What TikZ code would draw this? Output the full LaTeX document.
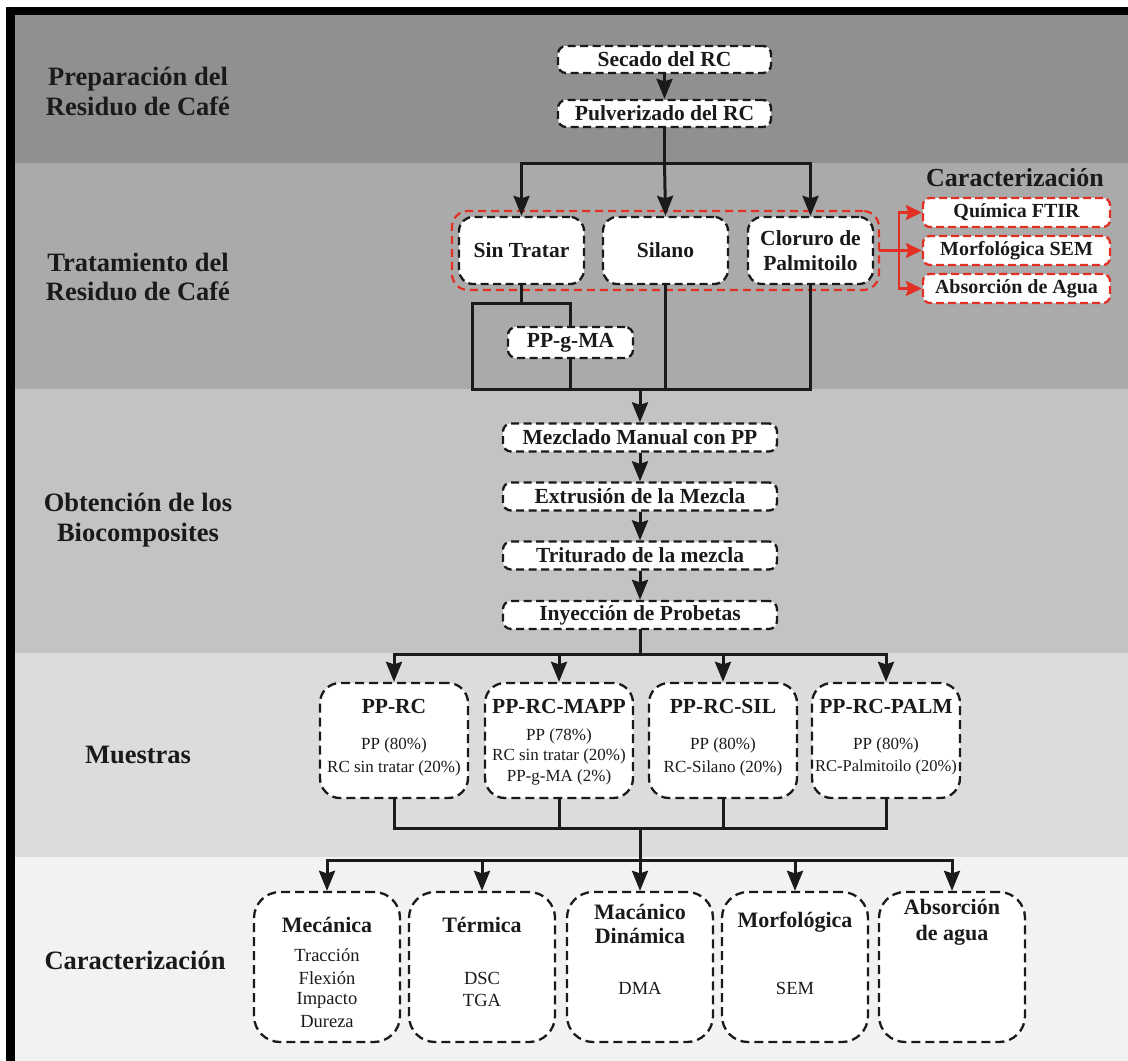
\documentclass[tikz,border=0pt]{standalone}
\usepackage{fontspec}
\setmainfont{Liberation Serif}
\usetikzlibrary{arrows.meta}
\definecolor{bandA}{RGB}{143,145,143}
\definecolor{bandB}{RGB}{169,170,169}
\definecolor{bandC}{RGB}{195,195,195}
\definecolor{bandD}{RGB}{220,220,220}
\definecolor{bandE}{RGB}{242,242,242}
\definecolor{linec}{RGB}{26,26,26}
\definecolor{redc}{RGB}{226,48,36}
\begin{document}
\begin{tikzpicture}[x=1pt,y=-1pt,
  conn/.style={line width=3pt, draw=linec, line cap=rect},
  arr/.style={line width=3pt, draw=linec, -{Stealth[length=20pt,width=16pt,inset=2.5pt]}},
  redline/.style={line width=2.6pt, draw=redc, line cap=rect},
  rarr/.style={line width=2.6pt, draw=redc, -{Stealth[length=16pt,width=15pt,inset=2.5pt]}},
  dbox/.style={draw=linec, fill=white, line width=2.3pt, dash pattern=on 8pt off 4.5pt, rounded corners=8pt, inner sep=0pt, text=linec, font=\bfseries\fontsize{21.5}{25}\selectfont, align=center},
  rbox/.style={draw=redc, fill=white, line width=2.3pt, dash pattern=on 8pt off 4pt, rounded corners=7pt, inner sep=0pt, text=linec, font=\bfseries\fontsize{20}{24}\selectfont, minimum width=187pt, minimum height=29pt},
  sbox/.style={draw=linec, fill=white, line width=2.3pt, dash pattern=on 9pt off 5pt, rounded corners=20pt, inner sep=0pt, minimum width=148pt, minimum height=115pt},
  cbox/.style={draw=linec, fill=white, line width=2.3pt, dash pattern=on 9pt off 5pt, rounded corners=26pt, inner sep=0pt, minimum width=146pt, minimum height=150pt},
  lab/.style={inner sep=0pt, text=linec, align=center, font=\bfseries\fontsize{26.5}{29.5}\selectfont},
  ttl/.style={inner sep=0pt, text=linec, align=center, font=\bfseries\fontsize{21.5}{25}\selectfont},
  sub/.style={inner sep=0pt, text=linec, font=\fontsize{17}{20}\selectfont},
  csub/.style={inner sep=0pt, text=linec, font=\fontsize{18.5}{21}\selectfont}
]
\useasboundingbox (0,0) rectangle (1128,1061);
\fill[white] (0,0) rectangle (1128,1061);
% bands
\fill[bandA] (15,15) rectangle (1128,163);
\fill[bandB] (15,163) rectangle (1128,389);
\fill[bandC] (15,389) rectangle (1128,653);
\fill[bandD] (15,653) rectangle (1128,857);
\fill[bandE] (15,857) rectangle (1128,1061);
% frame
\fill[black] (6,7) rectangle (1128,15);
\fill[black] (6,7) rectangle (15,1061);

% left labels
\node[lab] (l1) at (138,91.5) {Preparación del\\Residuo de Café};
\node[lab] (l2) at (138,277) {Tratamiento del\\Residuo de Café};
\node[lab] (l3) at (138,520) {Obtención de los\\Biocomposites};
\node[lab] (l4) at (138,755) {Muestras};
\node[lab] (l5) at (135,960) {Caracterización};

% band 1
\node[dbox, minimum width=213pt, minimum height=27pt] (sec) at (664.5,59.5) {Secado del RC};
\node[dbox, minimum width=213pt, minimum height=27pt] (pul) at (664.5,113.5) {Pulverizado del RC};
\draw[arr] (sec.south) -- (pul.north);

% band 2
\node[draw=redc, line width=2.2pt, dash pattern=on 8pt off 5pt, rounded corners=16pt, minimum width=427pt, minimum height=79pt, inner sep=0pt] (cont) at (665.5,250.5) {};
\node[dbox, minimum width=125pt, minimum height=67pt, rounded corners=14pt] (sin) at (521.5,250.5) {Sin Tratar};
\node[dbox, minimum width=125pt, minimum height=67pt, rounded corners=14pt] (sil) at (665.5,250.5) {Silano};
\node[dbox, minimum width=125pt, minimum height=67pt, rounded corners=14pt, font=\bfseries\fontsize{21.5}{25.5}\selectfont] (clo) at (810.5,250.5) {Cloruro de\\Palmitoilo};
\node[dbox, minimum width=125pt, minimum height=31pt] (ppg) at (570.5,342.5) {PP-g-MA};

\node[lab, font=\bfseries\fontsize{26}{29}\selectfont] (ch) at (1015,178) {Caracterización};
\node[rbox] (q) at (1016.5,212.5) {Química FTIR};
\node[rbox] (m) at (1016.5,250.5) {Morfológica SEM};
\node[rbox] (a) at (1016.5,288.5) {Absorción de Agua};

\coordinate (h1) at (664.5,163);
\draw[conn] (pul.south) -- (h1);
\draw[conn] (sin.north |- h1) -- (clo.north |- h1);
\draw[arr] (sin.north |- h1) -- (sin.north);
\draw[arr] (h1) -- (sil.north);
\draw[arr] (clo.north |- h1) -- (clo.north);

\coordinate (s1) at (521.5,303);
\coordinate (s2) at (472,303);
\coordinate (s3) at (570.5,303);
\coordinate (b1) at (472,389);
\coordinate (bm) at (640,389);
\draw[conn] (sin.south) -- (s1);
\draw[conn] (s2) -- (s3);
\draw[conn] (s2) -- (b1);
\draw[conn] (s3) -- (ppg.north);
\draw[conn] (ppg.south) -- (ppg.south |- b1);
\draw[conn] (sil.south) -- (sil.south |- b1);
\draw[conn] (clo.south) -- (clo.south |- b1);
\draw[conn] (b1) -- (clo.south |- b1);

% red connectors
\coordinate (r0) at (899,250.5);
\coordinate (rt) at (899,212.5);
\coordinate (rb) at (899,288.5);
\draw[redline] (cont.east) -- (r0);
\draw[redline] (rt) -- (rb);
\draw[rarr] (rt) -- (q.west);
\draw[rarr] (r0) -- (m.west);
\draw[rarr] (rb) -- (a.west);

% band 3
\node[dbox, minimum width=274pt, minimum height=28pt] (mez) at (640,437.5) {Mezclado Manual con PP};
\node[dbox, minimum width=274pt, minimum height=28pt] (ext) at (640,496.5) {Extrusión de la Mezcla};
\node[dbox, minimum width=274pt, minimum height=28pt] (tri) at (640,555.5) {Triturado de la mezcla};
\node[dbox, minimum width=274pt, minimum height=28pt] (iny) at (640,615) {Inyección de Probetas};
\draw[arr] (bm) -- (mez.north);
\draw[arr] (mez.south) -- (ext.north);
\draw[arr] (ext.south) -- (tri.north);
\draw[arr] (tri.south) -- (iny.north);

% band 4
\node[sbox] (p1) at (394,740.5) {};
\node[sbox] (p2) at (559,740.5) {};
\node[sbox] (p3) at (723,740.5) {};
\node[sbox] (p4) at (886,740.5) {};
\node[ttl] (p1t) at (394,706) {PP-RC};
\node[sub] (p1a) at (394,745) {PP (80\%)};
\node[sub] (p1b) at (394,768) {RC sin tratar (20\%)};
\node[ttl] (p2t) at (559,706) {PP-RC-MAPP};
\node[sub] (p2a) at (559,736) {PP (78\%)};
\node[sub] (p2b) at (559,756) {RC sin tratar (20\%)};
\node[sub] (p2c) at (559,777) {PP-g-MA (2\%)};
\node[ttl] (p3t) at (723,706) {PP-RC-SIL};
\node[sub] (p3a) at (723,745) {PP (80\%)};
\node[sub] (p3b) at (723,768) {RC-Silano (20\%)};
\node[ttl] (p4t) at (886,706) {PP-RC-PALM};
\node[sub] (p4a) at (886,745) {PP (80\%)};
\node[sub, font=\fontsize{16.5}{20}\selectfont] (p4b) at (886,768) {RC-Palmitoilo (20\%)};

\coordinate (h3) at (640,654);
\draw[conn] (iny.south) -- (h3);
\draw[conn] (p1.north |- h3) -- (p4.north |- h3);
\draw[arr] (p1.north |- h3) -- (p1.north);
\draw[arr] (p2.north |- h3) -- (p2.north);
\draw[arr] (p3.north |- h3) -- (p3.north);
\draw[arr] (p4.north |- h3) -- (p4.north);

% band 5
\node[cbox] (c1) at (327,967) {};
\node[cbox] (c2) at (482,967) {};
\node[cbox] (c3) at (640,967) {};
\node[cbox] (c4) at (795,967) {};
\node[cbox] (c5) at (952,967) {};
\node[ttl, font=\bfseries\fontsize{22}{25}\selectfont] (c1t) at (327,925) {Mecánica};
\node[csub] (c1a) at (327,955) {Tracción};
\node[csub] (c1b) at (327,978) {Flexión};
\node[csub] (c1c) at (327,1000) {Impacto};
\node[csub] (c1d) at (327,1022) {Dureza};
\node[ttl, font=\bfseries\fontsize{22}{25}\selectfont] (c2t) at (482,925) {Térmica};
\node[csub] (c2a) at (482,978) {DSC};
\node[csub] (c2b) at (482,1000) {TGA};
\node[ttl, font=\bfseries\fontsize{22}{24.5}\selectfont] (c3t) at (640,924) {Macánico\\Dinámica};
\node[csub] (c3a) at (640,988) {DMA};
\node[ttl, font=\bfseries\fontsize{22}{25}\selectfont] (c4t) at (795,922) {Morfológica};
\node[csub] (c4a) at (795,988) {SEM};
\node[ttl, font=\bfseries\fontsize{22}{26}\selectfont] (c5t) at (952,922) {Absorción\\de agua};

\coordinate (h4) at (640,828);
\coordinate (h5) at (640,860);
\draw[conn] (p1.south) -- (p1.south |- h4);
\draw[conn] (p2.south) -- (p2.south |- h4);
\draw[conn] (p3.south) -- (p3.south |- h4);
\draw[conn] (p4.south) -- (p4.south |- h4);
\draw[conn] (p1.south |- h4) -- (p4.south |- h4);
\draw[conn] (h4) -- (h5);
\draw[conn] (c1.north |- h5) -- (c5.north |- h5);
\draw[arr] (c1.north |- h5) -- (c1.north);
\draw[arr] (c2.north |- h5) -- (c2.north);
\draw[arr] (c3.north |- h5) -- (c3.north);
\draw[arr] (c4.north |- h5) -- (c4.north);
\draw[arr] (c5.north |- h5) -- (c5.north);
\end{tikzpicture}
\end{document}
